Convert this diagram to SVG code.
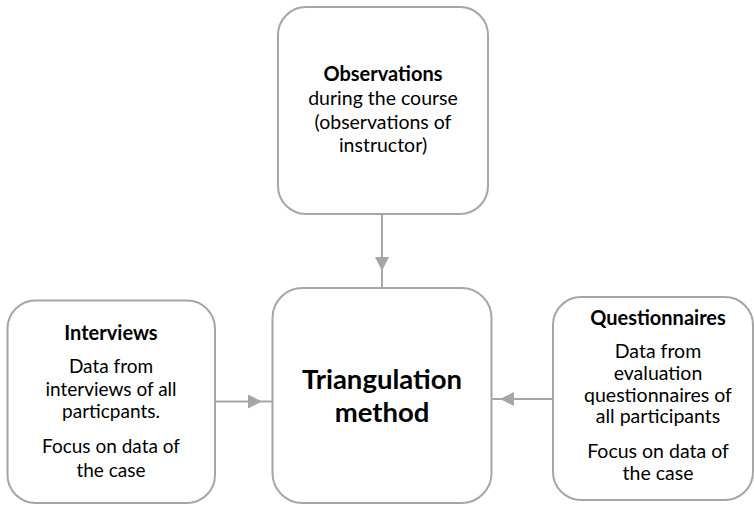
<svg xmlns="http://www.w3.org/2000/svg" width="754" height="506" viewBox="0 0 754 506">
<defs>
<style>
.box{fill:#ffffff;stroke:#a6a6a6;stroke-width:2}
.conn{fill:none;stroke:#a6a6a6;stroke-width:2}
text{font-family:Lato,"Liberation Sans",sans-serif;fill:#000000;text-anchor:middle}
.t{font-size:19.5px}
.tl{font-size:19px}
.b{font-size:20px;font-weight:bold}
.big{font-size:27.5px;font-weight:bold}
</style>
<marker id="ah" markerUnits="userSpaceOnUse" viewBox="0 0 14 14" markerWidth="14" markerHeight="14" refX="14" refY="7" orient="auto">
<path d="M0,0 L14,7 L0,14 z" fill="#a6a6a6"/>
</marker>
</defs>
<rect width="754" height="506" fill="#ffffff"/>
<g id="connectors">
<path class="conn" d="M382,214 L382,271 L382,288" marker-mid="url(#ah)"/>
<path class="conn" d="M215,401.5 L262,401.5 L272,401.5" marker-mid="url(#ah)"/>
<path class="conn" d="M553,399 L500,399 L492,399" marker-mid="url(#ah)"/>
</g>
<g id="observations">
<rect class="box" x="278" y="7" width="210" height="207" rx="28"/>
<text class="b" x="383" y="81">Observations</text>
<text class="t" x="383" y="105">during the course</text>
<text class="t" x="383" y="129">(observations of</text>
<text class="t" x="383" y="152">instructor)</text>
</g>
<g id="triangulation">
<rect class="box" x="272.5" y="288" width="219" height="215" rx="30"/>
<text class="big" x="382" y="389">Triangulation</text>
<text class="big" x="382" y="422">method</text>
</g>
<g id="interviews">
<rect class="box" x="7.5" y="300.5" width="207.5" height="202.5" rx="28"/>
<text class="b" x="111" y="340">Interviews</text>
<text class="tl" x="111" y="373">Data from</text>
<text class="tl" x="111" y="396">interviews of all</text>
<text class="tl" x="111" y="418">particpants.</text>
<text class="tl" x="111" y="453">Focus on data of</text>
<text class="tl" x="111" y="477">the case</text>
</g>
<g id="questionnaires">
<rect class="box" x="553" y="297" width="200" height="203" rx="28"/>
<text class="b" x="658" y="325">Questionnaires</text>
<text class="t" x="658" y="358">Data from</text>
<text class="t" x="658" y="380">evaluation</text>
<text class="t" x="658" y="402">questionnaires of</text>
<text class="t" x="658" y="423">all participants</text>
<text class="t" x="658" y="458">Focus on data of</text>
<text class="t" x="658" y="480">the case</text>
</g>
</svg>
